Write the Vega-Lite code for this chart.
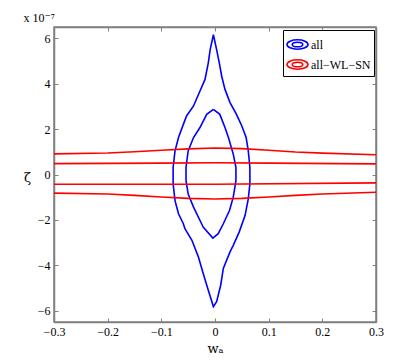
{
  "$schema": "https://vega.github.io/schema/vega-lite/v6.json",
  "width": 322,
  "height": 295,
  "autosize": {"type": "none"},
  "padding": {"left": 54, "top": 27, "right": 39, "bottom": 41},
  "background": "white",
  "title": {"text": "x 10⁻⁷", "anchor": "start", "font": "Liberation Serif, DejaVu Serif, serif", "fontSize": 12, "fontWeight": "normal", "color": "black", "offset": 2},
  "config": {
    "view": {"stroke": "#808080", "strokeWidth": 1.5},
    "axis": {"labelFont": "Liberation Serif, Times New Roman, serif", "labelFontSize": 12, "labelColor": "black", "labelFlush": false, "domainColor": "#808080", "domainWidth": 1.5, "tickColor": "#808080", "tickSize": -4, "grid": false, "titleFont": "DejaVu Serif, serif", "titleFontWeight": "normal", "titleColor": "black", "titleFontSize": 13},
    "legend": {"labelFont": "Liberation Serif, Times New Roman, serif"}
  },
  "data": {"values": [
    {"s":"all","c":"o","i":0,"x":-0.003,"y":6.16},
    {"s":"all","c":"o","i":1,"x":0.003,"y":5.5},
    {"s":"all","c":"o","i":2,"x":0.008,"y":4.92},
    {"s":"all","c":"o","i":3,"x":0.0125,"y":4.33},
    {"s":"all","c":"o","i":4,"x":0.0186,"y":3.75},
    {"s":"all","c":"o","i":5,"x":0.028,"y":3.17},
    {"s":"all","c":"o","i":6,"x":0.040,"y":2.65},
    {"s":"all","c":"o","i":7,"x":0.050,"y":2.14},
    {"s":"all","c":"o","i":8,"x":0.058,"y":1.63},
    {"s":"all","c":"o","i":9,"x":0.062,"y":1.04},
    {"s":"all","c":"o","i":10,"x":0.065,"y":0.32},
    {"s":"all","c":"o","i":11,"x":0.065,"y":-0.42},
    {"s":"all","c":"o","i":12,"x":0.062,"y":-1.07},
    {"s":"all","c":"o","i":13,"x":0.056,"y":-1.81},
    {"s":"all","c":"o","i":14,"x":0.045,"y":-2.54},
    {"s":"all","c":"o","i":15,"x":0.034,"y":-3.12},
    {"s":"all","c":"o","i":16,"x":0.028,"y":-3.41},
    {"s":"all","c":"o","i":17,"x":0.0155,"y":-4.14},
    {"s":"all","c":"o","i":18,"x":0.0106,"y":-4.88},
    {"s":"all","c":"o","i":19,"x":0.003,"y":-5.6},
    {"s":"all","c":"o","i":20,"x":-0.003,"y":-5.82},
    {"s":"all","c":"o","i":21,"x":-0.0125,"y":-5.1},
    {"s":"all","c":"o","i":22,"x":-0.022,"y":-4.36},
    {"s":"all","c":"o","i":23,"x":-0.031,"y":-3.63},
    {"s":"all","c":"o","i":24,"x":-0.043,"y":-2.9},
    {"s":"all","c":"o","i":25,"x":-0.056,"y":-2.39},
    {"s":"all","c":"o","i":26,"x":-0.059,"y":-2.17},
    {"s":"all","c":"o","i":27,"x":-0.068,"y":-1.73},
    {"s":"all","c":"o","i":28,"x":-0.0745,"y":-1.15},
    {"s":"all","c":"o","i":29,"x":-0.078,"y":-0.42},
    {"s":"all","c":"o","i":30,"x":-0.078,"y":0.32},
    {"s":"all","c":"o","i":31,"x":-0.0745,"y":1.04},
    {"s":"all","c":"o","i":32,"x":-0.068,"y":1.63},
    {"s":"all","c":"o","i":33,"x":-0.059,"y":2.21},
    {"s":"all","c":"o","i":34,"x":-0.053,"y":2.58},
    {"s":"all","c":"o","i":35,"x":-0.040,"y":3.02},
    {"s":"all","c":"o","i":36,"x":-0.028,"y":3.68},
    {"s":"all","c":"o","i":37,"x":-0.0186,"y":4.19},
    {"s":"all","c":"o","i":38,"x":-0.0125,"y":4.92},
    {"s":"all","c":"o","i":39,"x":-0.009,"y":5.5},
    {"s":"all","c":"o","i":40,"x":-0.003,"y":6.16},
    {"s":"all","c":"n","i":0,"x":-0.003,"y":2.87},
    {"s":"all","c":"n","i":1,"x":0.009,"y":2.65},
    {"s":"all","c":"n","i":2,"x":0.0186,"y":2.07},
    {"s":"all","c":"n","i":3,"x":0.025,"y":1.63},
    {"s":"all","c":"n","i":4,"x":0.034,"y":0.9},
    {"s":"all","c":"n","i":5,"x":0.039,"y":0.32},
    {"s":"all","c":"n","i":6,"x":0.039,"y":-0.27},
    {"s":"all","c":"n","i":7,"x":0.034,"y":-1.0},
    {"s":"all","c":"n","i":8,"x":0.027,"y":-1.59},
    {"s":"all","c":"n","i":9,"x":0.0155,"y":-2.17},
    {"s":"all","c":"n","i":10,"x":0.006,"y":-2.61},
    {"s":"all","c":"n","i":11,"x":-0.004,"y":-2.8},
    {"s":"all","c":"n","i":12,"x":-0.022,"y":-2.32},
    {"s":"all","c":"n","i":13,"x":-0.025,"y":-2.17},
    {"s":"all","c":"n","i":14,"x":-0.040,"y":-1.44},
    {"s":"all","c":"n","i":15,"x":-0.050,"y":-0.86},
    {"s":"all","c":"n","i":16,"x":-0.054,"y":-0.27},
    {"s":"all","c":"n","i":17,"x":-0.054,"y":0.32},
    {"s":"all","c":"n","i":18,"x":-0.050,"y":1.04},
    {"s":"all","c":"n","i":19,"x":-0.040,"y":1.63},
    {"s":"all","c":"n","i":20,"x":-0.028,"y":2.07},
    {"s":"all","c":"n","i":21,"x":-0.0155,"y":2.65},
    {"s":"all","c":"n","i":22,"x":-0.003,"y":2.87},
    {"s":"all−WL−SN","c":"r1","i":0,"x":-0.3,"y":0.91},
    {"s":"all−WL−SN","c":"r1","i":1,"x":-0.2,"y":0.95},
    {"s":"all−WL−SN","c":"r1","i":2,"x":-0.15,"y":1.0},
    {"s":"all−WL−SN","c":"r1","i":3,"x":-0.1,"y":1.07},
    {"s":"all−WL−SN","c":"r1","i":4,"x":-0.05,"y":1.13},
    {"s":"all−WL−SN","c":"r1","i":5,"x":0.0,"y":1.17},
    {"s":"all−WL−SN","c":"r1","i":6,"x":0.05,"y":1.14},
    {"s":"all−WL−SN","c":"r1","i":7,"x":0.1,"y":1.07},
    {"s":"all−WL−SN","c":"r1","i":8,"x":0.15,"y":0.99},
    {"s":"all−WL−SN","c":"r1","i":9,"x":0.2,"y":0.94},
    {"s":"all−WL−SN","c":"r1","i":10,"x":0.3,"y":0.87},
    {"s":"all−WL−SN","c":"r2","i":0,"x":-0.3,"y":0.48},
    {"s":"all−WL−SN","c":"r2","i":1,"x":-0.1,"y":0.5},
    {"s":"all−WL−SN","c":"r2","i":2,"x":0.0,"y":0.52},
    {"s":"all−WL−SN","c":"r2","i":3,"x":0.1,"y":0.5},
    {"s":"all−WL−SN","c":"r2","i":4,"x":0.3,"y":0.47},
    {"s":"all−WL−SN","c":"r3","i":0,"x":-0.3,"y":-0.43},
    {"s":"all−WL−SN","c":"r3","i":1,"x":0.0,"y":-0.43},
    {"s":"all−WL−SN","c":"r3","i":2,"x":0.3,"y":-0.37},
    {"s":"all−WL−SN","c":"r4","i":0,"x":-0.3,"y":-0.82},
    {"s":"all−WL−SN","c":"r4","i":1,"x":-0.2,"y":-0.86},
    {"s":"all−WL−SN","c":"r4","i":2,"x":-0.15,"y":-0.92},
    {"s":"all−WL−SN","c":"r4","i":3,"x":-0.1,"y":-0.99},
    {"s":"all−WL−SN","c":"r4","i":4,"x":-0.05,"y":-1.05},
    {"s":"all−WL−SN","c":"r4","i":5,"x":0.0,"y":-1.08},
    {"s":"all−WL−SN","c":"r4","i":6,"x":0.05,"y":-1.05},
    {"s":"all−WL−SN","c":"r4","i":7,"x":0.1,"y":-0.99},
    {"s":"all−WL−SN","c":"r4","i":8,"x":0.15,"y":-0.92},
    {"s":"all−WL−SN","c":"r4","i":9,"x":0.2,"y":-0.86},
    {"s":"all−WL−SN","c":"r4","i":10,"x":0.3,"y":-0.78}
  ]},
  "layer": [
    {
      "mark": {"type": "line", "strokeWidth": 1.6, "clip": true},
      "encoding": {
        "x": {"field": "x", "type": "quantitative", "scale": {"domain": [-0.3, 0.3], "nice": false, "zero": false},
              "axis": {"orient": "bottom", "values": [-0.3, -0.2, -0.1, 0, 0.1, 0.2, 0.3], "format": "~g", "labelPadding": 8, "title": "wₐ", "titlePadding": 5}},
        "y": {"field": "y", "type": "quantitative", "scale": {"domain": [-6.5, 6.5], "nice": false, "zero": false},
              "axis": {"orient": "left", "values": [-6, -4, -2, 0, 2, 4, 6], "labelPadding": 8, "title": "ζ", "titleAngle": 0, "titleX": -27, "titleY": 150, "titleAlign": "center", "titleBaseline": "middle"}},
        "color": {"field": "s", "type": "nominal", "scale": {"domain": ["all", "all−WL−SN"], "range": ["#0000ff", "#ff0000"]},
                  "legend": {"title": null, "orient": "none", "legendX": 229, "legendY": 3, "strokeColor": "black", "fillColor": "white", "padding": 3, "rowPadding": 0, "symbolType": "M -1,0 A 1,0.45 0 1,0 1,0 A 1,0.45 0 1,0 -1,0 M -0.5,0 A 0.5,0.22 0 1,0 0.5,0 A 0.5,0.22 0 1,0 -0.5,0", "symbolSize": 440, "symbolStrokeWidth": 1.6, "symbolFillColor": "transparent", "labelFont": "Liberation Serif, Times New Roman, serif", "labelFontSize": 12, "labelColor": "black", "labelOffset": 2}},
        "detail": {"field": "c"},
        "order": {"field": "i", "type": "quantitative"}
      }
    },
    {
      "mark": {"type": "point", "opacity": 0},
      "encoding": {
        "x": {"field": "x", "type": "quantitative", "axis": {"orient": "top", "values": [-0.3, -0.2, -0.1, 0, 0.1, 0.2, 0.3], "labels": false, "title": null}},
        "y": {"field": "y", "type": "quantitative", "axis": {"orient": "right", "values": [-6, -4, -2, 0, 2, 4, 6], "labels": false, "title": null}}
      }
    }
  ],
  "resolve": {"axis": {"x": "independent", "y": "independent"}}
}
